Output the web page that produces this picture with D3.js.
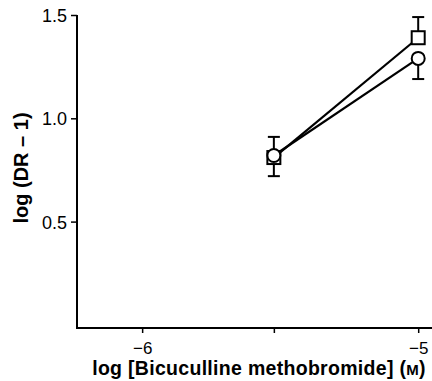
<!DOCTYPE html>
<html>
<head>
<meta charset="utf-8">
<script src="https://cdn.jsdelivr.net/npm/d3@7"></script>
<style>
  body { margin: 0; background: #fff; }
  svg { display: block; font-family: "Liberation Sans", Arial, sans-serif; }
</style>
</head>
<body>
<div id="chart"></div>
<script>
// concentrations (log M): 3 uM and 10 uM
const logConc = [Math.log10(3e-6), -5];
const squareVals = [0.81, 1.39];
const squareErr = [0.10, 0.10];
const circleVals = [0.82, 1.29];
const circleErr = [0.10, 0.10];
const xTicks = [-6, Math.log10(3e-6), -5];
const xTickLabels = ['−6', '', '−5'];
const yTicks = [0.5, 1.0, 1.5];

const width = 432, height = 381;

const svg = d3.select('#chart')
  .append('svg')
  .attr('width', width)
  .attr('height', height);

// scales
const x = d3.scaleLinear()
  .domain([-6.236, -4.95])
  .range([77, 432]);

const y = d3.scaleLinear()
  .domain([-0.015, 1.5])
  .range([328, 15]);

// y axis
const yAxis = svg.append('g')
  .attr('transform', 'translate(77,0)')
  .call(d3.axisLeft(y).tickValues(yTicks).tickFormat(d3.format('.1f')).tickSize(6).tickSizeOuter(0));
yAxis.select('.domain').attr('stroke', '#000').attr('stroke-width', 2)
  .attr('d', `M0,${y(1.5)}V${y.range()[0]}`);
yAxis.selectAll('.tick line').attr('stroke-width', 1.5);
yAxis.selectAll('.tick text')
  .attr('x', -10)
  .attr('dy', '0.36em')
  .style('font-size', '18px')
  .style('font-family', '"Liberation Sans", Arial, sans-serif')
  .attr('fill', '#000');

// x axis
const xAxis = svg.append('g')
  .attr('transform', 'translate(0,328)')
  .call(d3.axisBottom(x).tickValues(xTicks).tickFormat((d, i) => xTickLabels[i]).tickSize(5).tickSizeOuter(0));
xAxis.select('.domain').attr('stroke', '#000').attr('stroke-width', 2)
  .attr('d', `M76,0H${width}`);
xAxis.selectAll('.tick line').attr('stroke-width', 1.5);
xAxis.selectAll('.tick text')
  .attr('y', 14)
  .attr('dy', '0.71em')
  .style('font-size', '17px')
  .style('font-family', '"Liberation Sans", Arial, sans-serif')
  .attr('fill', '#000');

// axis titles
svg.append('text')
  .attr('transform', `translate(28,168) rotate(-90)`)
  .attr('text-anchor', 'middle')
  .style('font-size', '20px')
  .style('font-weight', 'bold')
  .attr('xml:space', 'preserve')
  .text('log (DR – 1)');

const xTitle = svg.append('text')
  .attr('x', 259)
  .attr('y', 375)
  .attr('text-anchor', 'middle')
  .style('font-size', '19.5px')
  .style('font-weight', 'bold')
  .style('letter-spacing', '0.3px');
xTitle.append('tspan').text('log [Bicuculline methobromide] (');
xTitle.append('tspan').style('font-size', '15px').text('M');
xTitle.append('tspan').text(')');

// lines
const line = d3.line()
  .x((d, i) => x(logConc[i]))
  .y(d => y(d));

[squareVals, circleVals].forEach(vals => {
  svg.append('path')
    .datum(vals)
    .attr('d', line)
    .attr('fill', 'none')
    .attr('stroke', '#000')
    .attr('stroke-width', 2.2);
});

// error bars: squares upward, circles downward
const capW = 12;
function errorBars(vals, errs, dir) {
  const g = svg.append('g').attr('stroke', '#000').attr('stroke-width', 2);
  vals.forEach((v, i) => {
    const cx = x(logConc[i]);
    const y0 = y(v), y1 = y(v + dir * errs[i]);
    g.append('line').attr('x1', cx).attr('x2', cx).attr('y1', y0).attr('y2', y1);
    g.append('line').attr('x1', cx - capW / 2).attr('x2', cx + capW / 2).attr('y1', y1).attr('y2', y1);
  });
}
errorBars(squareVals, squareErr, 1);
errorBars(circleVals, circleErr, -1);

// markers
const sq = 13;
svg.append('g').selectAll('rect')
  .data(squareVals)
  .enter()
  .append('rect')
  .attr('x', (d, i) => x(logConc[i]) - sq / 2)
  .attr('y', d => y(d) - sq / 2)
  .attr('width', sq)
  .attr('height', sq)
  .attr('fill', '#fff')
  .attr('stroke', '#000')
  .attr('stroke-width', 2);

svg.append('g').selectAll('circle')
  .data(circleVals)
  .enter()
  .append('circle')
  .attr('cx', (d, i) => x(logConc[i]))
  .attr('cy', d => y(d))
  .attr('r', 6.5)
  .attr('fill', '#fff')
  .attr('stroke', '#000')
  .attr('stroke-width', 2);
</script>
</body>
</html>
